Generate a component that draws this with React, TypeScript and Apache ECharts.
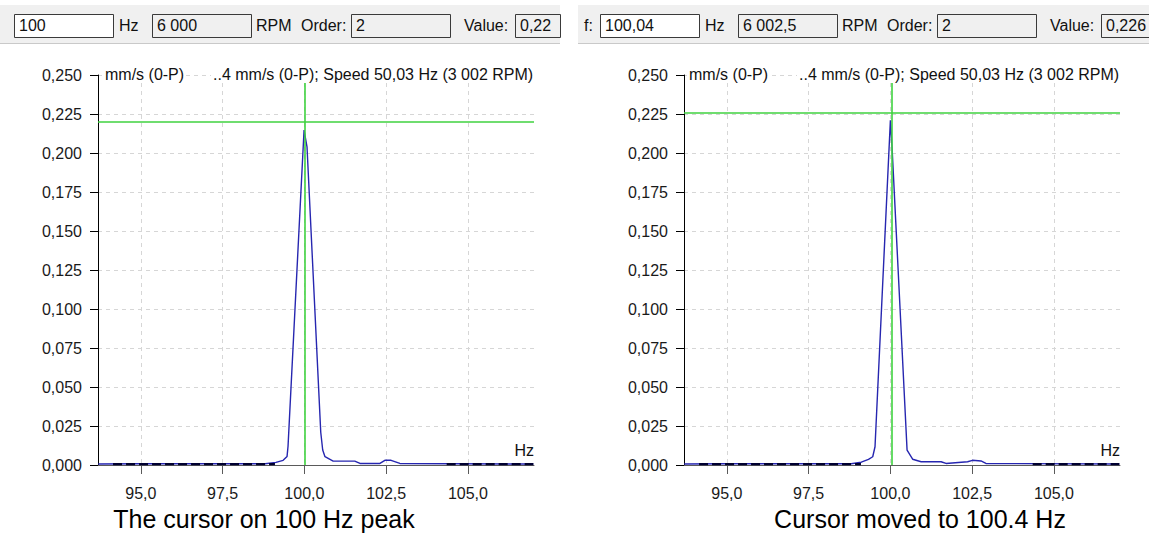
import React, { useEffect, useRef } from "react";
import * as echarts from "echarts";

// ---- data ----
const xTickHz = [95.0, 97.5, 100.0, 102.5, 105.0];
const xRange = [93.69, 107.02];
const freqA = [93.7, 95.0, 97.0, 98.8, 99.13, 99.35, 99.47, 99.5, 99.99, 100.08, 100.5, 100.56, 100.63, 100.88, 101.54, 101.7, 102.31, 102.46, 102.65, 102.92, 107.0];
const ampA = [0.0006, 0.0008, 0.0008, 0.0008, 0.0017, 0.003, 0.0055, 0.012, 0.2147, 0.204, 0.021, 0.0096, 0.0053, 0.0025, 0.0025, 0.001, 0.001, 0.003, 0.003, 0.001, 0.0006];
const freqB = [93.7, 95.0, 97.0, 98.8, 99.11, 99.33, 99.46, 99.53, 100.0, 100.05, 100.51, 100.68, 100.94, 101.55, 101.7, 102.36, 102.51, 102.77, 102.92, 107.0];
const ampB = [0.0006, 0.0008, 0.0008, 0.0008, 0.0018, 0.0036, 0.0053, 0.0117, 0.221, 0.204, 0.0096, 0.0037, 0.0021, 0.0021, 0.001, 0.0021, 0.003, 0.0026, 0.001, 0.0006];
const floorSegments = [[94.15, 99.1], [104.35, 107.0]];
const floorLevel = 0.0006;
const cursorHz = [100.0, 100.04];
const cursorValue = [0.22, 0.226];
const cursorTop = 0.2449;
const titleUnit = "mm/s (0-P)";
const titleInfo = "..4 mm/s (0-P); Speed 50,03 Hz (3 002 RPM)";
const captions = ["The cursor on 100 Hz peak", "Cursor moved to 100.4 Hz"];
const toolbarA = { f: "100", rpm: "6 000", order: "2", value: "0,22" };
const toolbarB = { f: "100,04", rpm: "6 002,5", order: "2", value: "0,226" };

const FONT = "'Liberation Sans', Arial, sans-serif";

function txt(x: number, y: number, text: string, size = 16, align = "left", color = "#111", bg?: string) {
  return {
    type: "text",
    x,
    y,
    z: 100,
    silent: true,
    style: {
      text,
      font: `${size}px ${FONT}`,
      lineHeight: Math.round(size * 1.05),
      fill: color,
      textAlign: align,
      align,
      textVerticalAlign: "middle",
      verticalAlign: "middle",
      ...(bg ? { backgroundColor: bg, padding: [0, 2, 0, 2] } : {}),
    },
  };
}

function box(x: number, y: number, w: number, h: number, fill: string) {
  return {
    type: "rect",
    z: 90,
    silent: true,
    shape: { x: x + 0.5, y: y + 0.5, width: w, height: h },
    style: { fill, stroke: "#3a3a3a", lineWidth: 1 },
  };
}

export default function App() {
  const ref = useRef<HTMLDivElement>(null);
  useEffect(() => {
    if (!ref.current) return;
    const chart = echarts.init(ref.current, null, { renderer: "svg" });
    const fmtX = (v: number) => v.toFixed(1).replace(".", ",");
    const fmtY = (v: number) => v.toFixed(3).replace(".", ",");

    const grids = [
      { left: 98, top: 75, width: 436, height: 390 },
      { left: 684, top: 75, width: 436, height: 390 },
    ];
    const xAxes = [0, 1].map((i) => ({
      type: "value",
      gridIndex: i,
      min: xRange[0],
      max: xRange[1],
      axisLine: { onZero: false, lineStyle: { color: "#5a5a5a", width: 1 } },
      axisTick: { show: true, length: 9, customValues: xTickHz, lineStyle: { color: "#5a5a5a" } },
      axisLabel: { customValues: xTickHz, formatter: fmtX, margin: 20, fontSize: 16, color: "#1a1a1a", fontFamily: FONT },
      splitLine: { show: true, lineStyle: { color: "#d6d6d6", type: [4, 4], width: 1 } },
    }));
    const yAxes = [0, 1].map((i) => ({
      type: "value",
      gridIndex: i,
      min: 0,
      max: 0.25,
      interval: 0.025,
      axisLine: { show: true, lineStyle: { color: "#000", width: 1 } },
      axisTick: { show: true, length: 8, lineStyle: { color: "#000" } },
      axisLabel: { formatter: fmtY, margin: 16, fontSize: 16, color: "#1a1a1a", fontFamily: FONT },
      splitLine: { show: true, lineStyle: { color: "#d6d6d6", type: [4, 4], width: 1 } },
    }));

    const panels = [
      { f: freqA, a: ampA },
      { f: freqB, a: ampB },
    ];
    const series: any[] = [];
    panels.forEach((p, i) => {
      series.push({
        type: "line",
        xAxisIndex: i,
        yAxisIndex: i,
        data: p.f.map((hz, k) => [hz, p.a[k]]),
        showSymbol: false,
        symbol: "none",
        lineStyle: { color: "#2626b0", width: 1.4 },
        z: 3,
        markLine: {
          silent: true,
          symbol: "none",
          precision: 4,
          label: { show: false },
          lineStyle: { color: "#3fd23f", width: 1.6, type: "solid" },
          data: [
            [{ coord: [xRange[0], cursorValue[i]] }, { coord: [xRange[1], cursorValue[i]] }],
            [{ coord: [cursorHz[i], 0] }, { coord: [cursorHz[i], cursorTop] }],
          ],
        },
      });
      const floorData: any[] = [];
      floorSegments.forEach((seg, k) => {
        if (k > 0) floorData.push([(floorSegments[k - 1][1] + seg[0]) / 2, "-"]);
        floorData.push([seg[0], floorLevel], [seg[1], floorLevel]);
      });
      series.push({
        type: "line",
        xAxisIndex: i,
        yAxisIndex: i,
        data: floorData,
        showSymbol: false,
        symbol: "none",
        connectNulls: false,
        lineStyle: { color: "#000030", width: 2.2, type: [9, 4] },
        z: 4,
      });
    });

    const toolbar = (x0: number, w: number, t: any, withF: boolean) => {
      const els: any[] = [
        { type: "rect", z: 80, silent: true, shape: { x: x0, y: 5, width: w, height: 39 }, style: { fill: "#f0f0f0" } },
        { type: "line", z: 81, silent: true, shape: { x1: x0, y1: 43.5, x2: x0 + w, y2: 43.5 }, style: { stroke: "#c9c9c9", lineWidth: 1 } },
      ];
      const o = withF ? 586 : 0;
      if (withF) els.push(txt(584, 25.5, "f:", 16));
      els.push(box(o + 14, 14, 99, 23, "#ffffff"), txt(o + 19, 25.5, t.f));
      els.push(txt(o + 119, 25.5, "Hz"));
      els.push(box(o + 152, 14, 99, 23, "#f0f0f0"), txt(o + 157, 25.5, t.rpm));
      els.push(txt(o + 256, 25.5, "RPM"));
      els.push(txt(o + 301, 25.5, "Order:"));
      els.push(box(o + 351, 14, 99, 23, "#f0f0f0"), txt(o + 356, 25.5, t.order));
      els.push(txt(o + 464, 25.5, "Value:"));
      els.push(box(o + 515, 14, withF ? 60 : 45, 23, "#f0f0f0"), txt(o + 520, 25.5, t.value));
      return els;
    };

    const graphic: any[] = [
      ...toolbar(0, 560, toolbarA, false),
      ...toolbar(578, 571, toolbarB, true),
      txt(103, 74, titleUnit, 16, "left", "#111", "#ffffff"),
      txt(211, 74, titleInfo, 16, "left", "#111", "#ffffff"),
      txt(687, 74, titleUnit, 16, "left", "#111", "#ffffff"),
      txt(797, 74, titleInfo, 16, "left", "#111", "#ffffff"),
      txt(534, 450, "Hz", 16, "right"),
      txt(1120, 450, "Hz", 16, "right"),
      txt(264, 519, captions[0], 25, "center", "#000"),
      txt(920, 519, captions[1], 25, "center", "#000"),
    ];

    chart.setOption({
      animation: false,
      backgroundColor: "#ffffff",
      grid: grids,
      xAxis: xAxes,
      yAxis: yAxes,
      series,
      graphic,
    } as any);
    return () => chart.dispose();
  }, []);
  return (
    <div
      ref={ref}
      style={{ position: "absolute", left: 0, top: 0, width: 1149, height: 534, background: "#fff" }}
    />
  );
}
